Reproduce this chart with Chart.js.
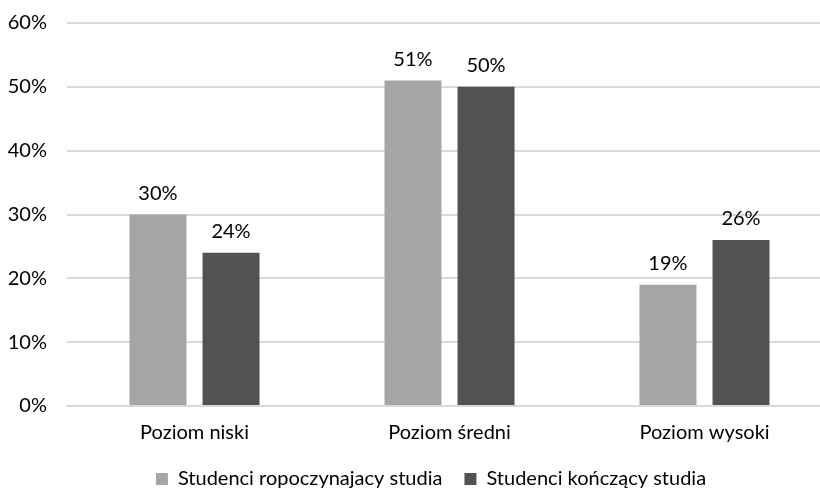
<!DOCTYPE html>
<html>
<head>
<meta charset="utf-8">
<script src="https://cdn.jsdelivr.net/npm/chart.js@4/dist/chart.umd.min.js"></script>
<style>
  html, body { margin: 0; padding: 0; background: #fff; overflow: hidden; }
  #wrap { width: 862px; height: 499px; }
</style>
</head>
<body>
<div id="wrap"><canvas id="c" width="862" height="499"></canvas></div>
<script>
// Poziomy (kategorie) i udział studentów w każdej grupie, w procentach
const categories = ['Poziom niski', 'Poziom średni', 'Poziom wysoki'];
const seriesNames = ['Studenci ropoczynajacy studia', 'Studenci kończący studia'];
const startingStudents = [30, 51, 19];
const graduatingStudents = [24, 50, 26];
const yTicks = [0, 10, 20, 30, 40, 50, 60];

const FONT = 'Lato, "DejaVu Sans", sans-serif';
const FONT_SIZE = 20;

// Etykiety wartości nad słupkami
const valueLabels = {
  id: 'valueLabels',
  afterDatasetsDraw(chart) {
    const ctx = chart.ctx;
    ctx.save();
    ctx.font = FONT_SIZE + 'px ' + FONT;
    ctx.fillStyle = '#000';
    ctx.textAlign = 'center';
    ctx.textBaseline = 'middle';
    chart.data.datasets.forEach((ds, i) => {
      chart.getDatasetMeta(i).data.forEach((bar, j) => {
        ctx.fillText(ds.data[j] + '%', bar.x, bar.y - 21);
      });
    });
    ctx.restore();
  }
};

new Chart(document.getElementById('c'), {
  type: 'bar',
  data: {
    labels: categories,
    datasets: [
      { label: seriesNames[0], data: startingStudents, backgroundColor: '#a5a5a5' },
      { label: seriesNames[1], data: graduatingStudents, backgroundColor: '#525252' }
    ]
  },
  options: {
    responsive: false,
    animation: false,
    layout: { padding: { left: 0, right: 0, top: 23, bottom: 0 } },
    datasets: { bar: { categoryPercentage: 0.573, barPercentage: 0.78 } },
    scales: {
      x: {
        grid: { display: false },
        border: { color: '#d9d9d9', width: 2 },
        ticks: { color: '#000', font: { family: FONT, size: FONT_SIZE }, padding: 7 },
        afterFit(scale) { scale.height = 41; scale.paddingLeft = 0; scale.paddingRight = 0; }
      },
      y: {
        min: 0, max: 60,
        afterBuildTicks(scale) { scale.ticks = yTicks.map(v => ({ value: v })); },
        grid: { color: '#d9d9d9', lineWidth: 2, drawTicks: false },
        border: { display: false },
        ticks: {
          color: '#000', font: { family: FONT, size: FONT_SIZE }, padding: 20,
          callback: v => v + '%'
        },
        afterFit(scale) { scale.width = 67; scale.paddingTop = 0; scale.paddingBottom = 0; }
      },
      // pusty margines po prawej stronie obszaru wykresu
      yRight: {
        position: 'right',
        min: 0, max: 60,
        grid: { display: false },
        border: { display: false },
        ticks: { display: false },
        afterFit(scale) { scale.width = 30; scale.paddingTop = 0; scale.paddingBottom = 0; }
      }
    },
    plugins: {
      legend: {
        position: 'bottom',
        labels: {
          color: '#000', font: { family: FONT, size: FONT_SIZE },
          boxWidth: 12, boxHeight: 12, padding: 22
        }
      },
      tooltip: { enabled: false }
    }
  },
  plugins: [valueLabels]
});
</script>
</body>
</html>
